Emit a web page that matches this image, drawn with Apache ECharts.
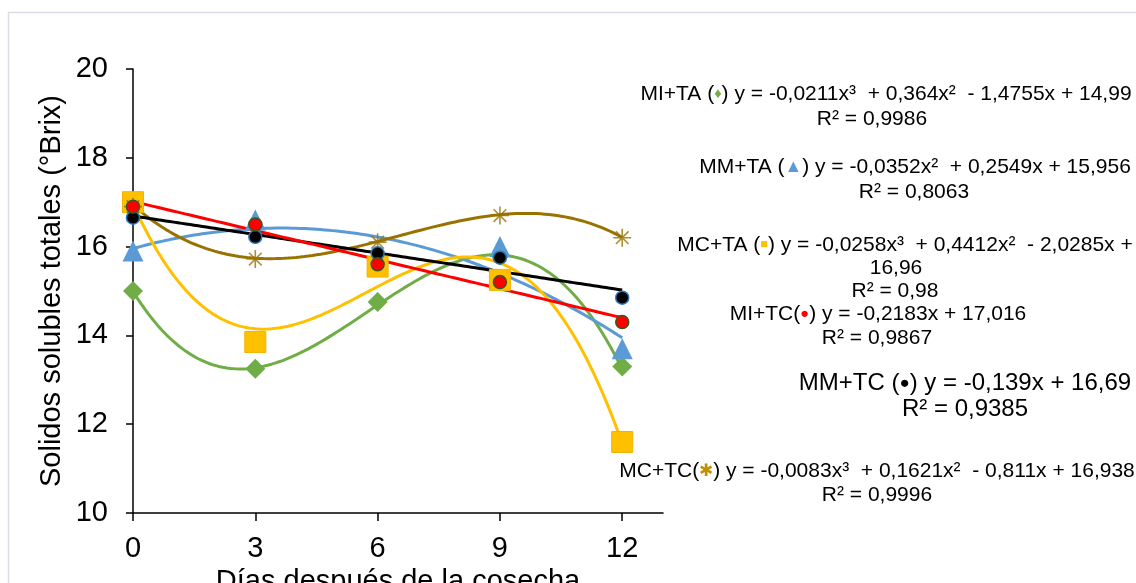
<!DOCTYPE html>
<html>
<head>
<meta charset="utf-8">
<script src="https://cdn.jsdelivr.net/npm/echarts@6/dist/echarts.min.js"></script>
<style>
  html, body { margin: 0; padding: 0; background: #fff; }
  #chart { width: 1136px; height: 583px; }
</style>
</head>
<body>
<div id="chart"></div>
<script>
// Días después de la cosecha
const days = [0, 3, 6, 9, 12];
const xTicks = [0, 3, 6, 9, 12];

// Sólidos solubles totales (°Brix) per treatment
const miTA = [15.0, 13.25, 14.75, 15.8, 13.3];
const mmTA = [15.9, 16.6, 15.6, 16.0, 13.7];
const mcTA = [17.0, 13.85, 15.55, 15.25, 11.6];
const miTC = [16.9, 16.5, 15.6, 15.2, 14.3];
const mmTC = [16.65, 16.22, 15.85, 15.75, 14.85];
const mcTC = [16.9, 15.72, 16.1, 16.7, 16.2];

// Trend-line coefficients [c0, c1, c2, c3] as printed in the equations
const fitMiTA = [14.99, -1.4755, 0.364, -0.0211];
const fitMmTA = [15.956, 0.2549, -0.0352, 0];
const fitMcTA = [16.96, -2.0285, 0.4412, -0.0258];
const fitMiTC = [17.016, -0.2183, 0, 0];
const fitMmTC = [16.69, -0.139, 0, 0];
const fitMcTC = [16.938, -0.811, 0.1621, -0.0083];

const C = {
  green: '#70AD47', blue: '#5B9BD5', yellow: '#FFC000',
  red: '#FF0000', black: '#000000', brown: '#997300'
};

function trend(coef) {
  const pts = [];
  for (let i = 0; i <= 120; i++) {
    const x = i / 10;
    pts.push([x, coef[0] + coef[1] * x + coef[2] * x * x + coef[3] * x * x * x]);
  }
  return pts;
}
const pairs = v => days.map((d, i) => [d, v[i]]);

const asterisk = 'path://M10,0L10,20M0,10L20,10M3,3L17,17M17,3L3,17';

function lineSeries(coef, color) {
  return {
    type: 'line', data: trend(coef), showSymbol: false, symbol: 'none',
    lineStyle: { color, width: 3 }, z: 2, silent: true
  };
}
function markSeries(vals, symbol, size, color, border, bw) {
  return {
    type: 'scatter', data: pairs(vals), symbol, symbolSize: size, z: 3,
    itemStyle: { color, borderColor: border || color, borderWidth: bw || 0, opacity: 1 }
  };
}

const chart = echarts.init(document.getElementById('chart'), null, { renderer: 'canvas' });

const eqFont = 'Liberation Sans, Arial, sans-serif';
function eqText(x, y, parts, size) {
  return {
    type: 'text', x, y, z: 10,
    style: {
      text: parts, textAlign: 'center', textVerticalAlign: 'middle',
      font: size + 'px ' + eqFont, fill: '#000',
      rich: {
        t: { fontSize: size, fontFamily: eqFont, fill: '#000' },
        g: { fontSize: size * 0.7, fill: C.green },
        b: { fontSize: size * 0.85, fill: C.blue },
        y: { fontSize: size * 0.6, fill: C.yellow },
        r: { fontSize: size * 0.7, fill: C.red },
        k: { fontSize: size * 0.7, fill: '#000' },
        m: { fontSize: size * 0.8, fill: '#BF9000' }
      }
    }
  };
}

const option = {
  animation: false,
  backgroundColor: '#fff',
  grid: { left: 133, right: 473, top: 69, bottom: 70, outerBoundsMode: 'none', containLabel: false },
  xAxis: {
    type: 'value', min: 0, max: 13, interval: 3,
    name: 'Días después de la cosecha', nameLocation: 'middle', nameGap: 41,
    nameTextStyle: { fontSize: 29, color: '#000', fontFamily: eqFont },
    axisLine: { lineStyle: { color: '#000', width: 1.5 } },
    axisTick: { show: true, length: 8, lineStyle: { color: '#000', width: 1.5 }, customValues: xTicks },
    axisLabel: { fontSize: 29, color: '#000', margin: 21, fontFamily: eqFont, customValues: xTicks },
    splitLine: { show: false }
  },
  yAxis: {
    type: 'value', min: 10, max: 20, interval: 2,
    name: 'Solidos solubles totales (°Brix)', nameLocation: 'middle', nameGap: 67, nameRotate: 90,
    nameTextStyle: { fontSize: 29, color: '#000', fontFamily: eqFont },
    axisLine: { show: true, lineStyle: { color: '#000', width: 1.5 } },
    axisTick: { show: true, length: 7, lineStyle: { color: '#000', width: 1.5 } },
    axisLabel: { fontSize: 29, color: '#000', margin: 25, fontFamily: eqFont },
    splitLine: { show: false }
  },
  series: [
    lineSeries(fitMiTA, C.green),
    lineSeries(fitMmTA, C.blue),
    lineSeries(fitMcTA, C.yellow),
    lineSeries(fitMcTC, C.brown),
    lineSeries(fitMmTC, C.black),
    lineSeries(fitMiTC, C.red),
    markSeries(miTA, 'diamond', 20, C.green),
    markSeries(mmTA, 'triangle', 21, C.blue),
    markSeries(mcTA, 'rect', 21, C.yellow, '#F0B400', 1),
    {
      type: 'scatter', data: pairs(mcTC), symbol: asterisk, symbolSize: 18, z: 3,
      itemStyle: { color: 'none', borderColor: C.brown, borderWidth: 1.6 }
    },
    markSeries(mmTC, 'circle', 13, C.black, '#2E75B6', 1.5),
    markSeries(miTC, 'circle', 13, C.red, '#385723', 1.5)
  ],
  graphic: [
    {
      type: 'rect', z: -1, silent: true,
      shape: { x: 8.5, y: 12.5, width: 1140, height: 600 },
      style: { fill: 'none', stroke: '#D9DEE5', lineWidth: 1.5 }
    },
    eqText(886, 94, '{t|MI+TA (}{g|♦}{t|) y = -0,0211x³  + 0,364x²  - 1,4755x + 14,99}', 21),
    eqText(872, 119, 'R² = 0,9986', 21),
    eqText(915, 167, '{t|MM+TA (}{b|▲}{t|) y = -0,0352x²  + 0,2549x + 15,956}', 21),
    eqText(914, 192, 'R² = 0,8063', 21),
    eqText(905, 245, '{t|MC+TA (}{y|■}{t|) y = -0,0258x³  + 0,4412x²  - 2,0285x +}', 21),
    eqText(896, 268, '16,96', 21),
    eqText(895, 291, 'R² = 0,98', 21),
    eqText(878, 314, '{t|MI+TC(}{r|●}{t|) y = -0,2183x + 17,016}', 21),
    eqText(877, 338, 'R² = 0,9867', 21),
    eqText(965, 383, '{t|MM+TC (}{k|●}{t|) y = -0,139x + 16,69}', 24),
    eqText(965, 409, 'R² = 0,9385', 24),
    eqText(877, 471, '{t|MC+TC(}{m|✱}{t|) y = -0,0083x³  + 0,1621x²  - 0,811x + 16,938}', 21),
    eqText(877, 495, 'R² = 0,9996', 21)
  ]
};

chart.setOption(option);
</script>
</body>
</html>
